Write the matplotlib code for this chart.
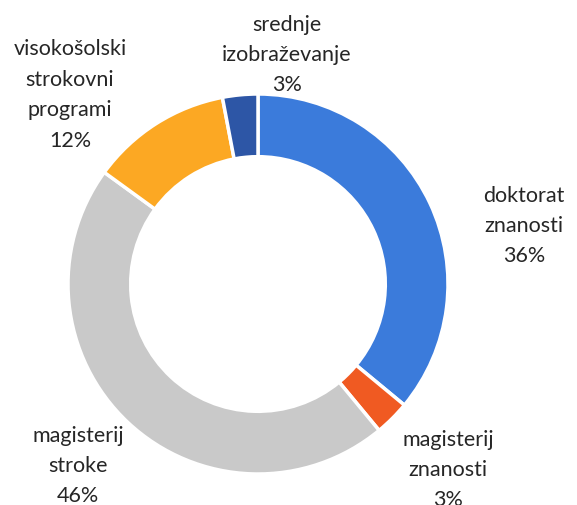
import matplotlib
matplotlib.use("Agg")
import matplotlib.pyplot as plt

labels = ["doktorat\nznanosti", "magisterij\nznanosti", "magisterij\nstroke",
          "visokošolski\nstrokovni\nprogrami", "srednje\nizobraževanje"]
values = [36, 3, 46, 12, 3]
colors = ["#3B7BDB", "#F05A22", "#C9C9C9", "#FCA823", "#2D56A6"]

# label anchor positions in pixel coords (x, y from top)
label_pos = [(524, 226), (448, 470), (78, 466), (70, 95), (287, 55)]

W, H = 577, 506
fig = plt.figure(figsize=(W / 100, H / 100), dpi=100)
ax = fig.add_axes([0, 0, 1, 1])

cx, cy, R = 258, H - 285, 190
ring = 0.33 * R

ax.pie(values, colors=colors, startangle=90, counterclock=False,
       center=(cx, cy), radius=R, frame=True,
       wedgeprops=dict(width=ring, edgecolor="white", linewidth=2.5))
ax.set_xlim(0, W)
ax.set_ylim(0, H)
ax.set_aspect("equal")
ax.axis("off")

for lab, v, (x, y) in zip(labels, values, label_pos):
    ax.text(x, H - y, f"{lab}\n{v}%", ha="center", va="center",
            fontsize=15.5, family=["Lato", "DejaVu Sans"], color="#262626",
            linespacing=1.65)

fig.savefig("out.png", dpi=100)
